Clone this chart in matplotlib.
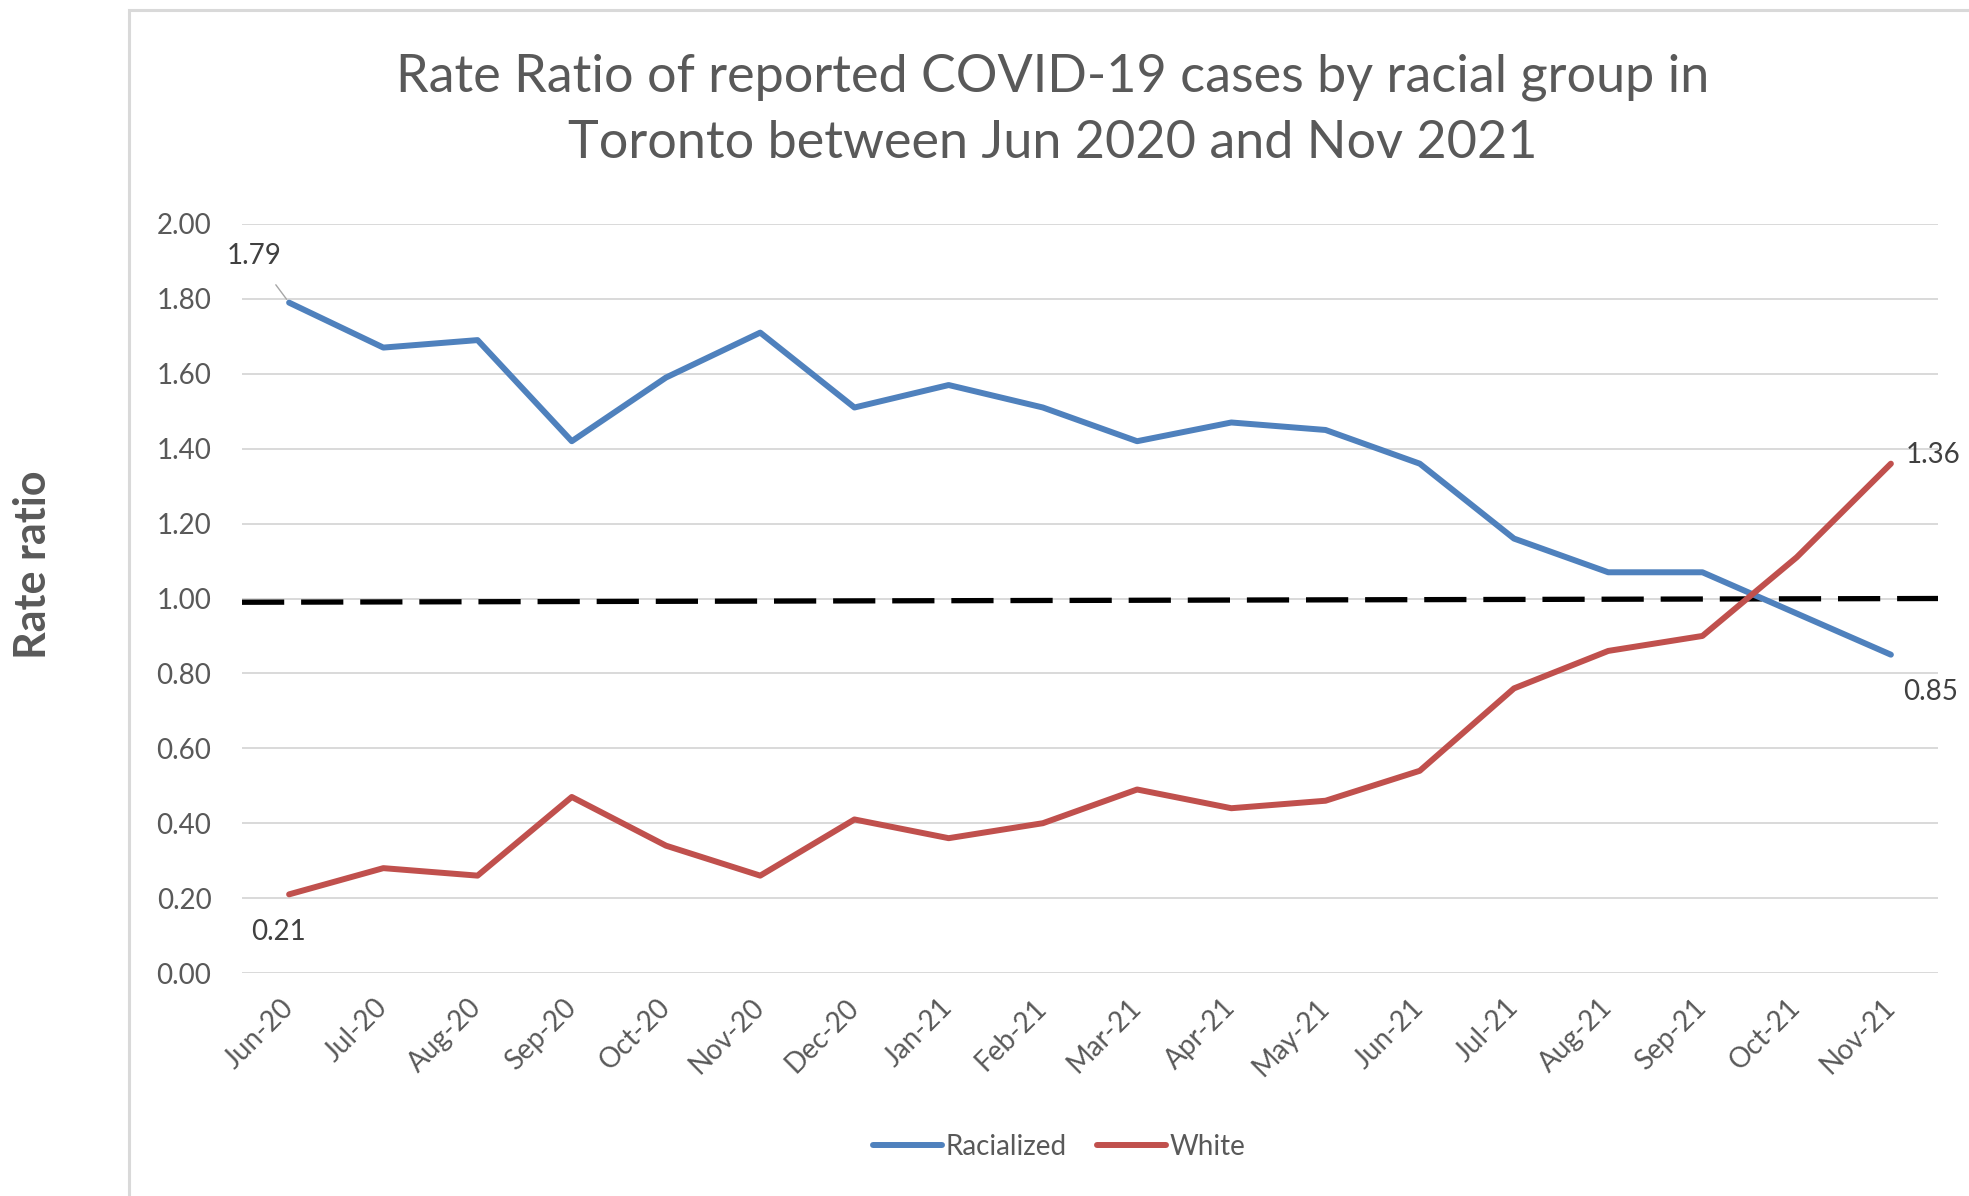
import matplotlib
matplotlib.use("Agg")
import matplotlib.pyplot as plt
from matplotlib.patches import Rectangle

# Data
months = ["Jun-20", "Jul-20", "Aug-20", "Sep-20", "Oct-20", "Nov-20", "Dec-20",
          "Jan-21", "Feb-21", "Mar-21", "Apr-21", "May-21", "Jun-21", "Jul-21",
          "Aug-21", "Sep-21", "Oct-21", "Nov-21"]
racialized = [1.79, 1.67, 1.69, 1.42, 1.59, 1.71, 1.51, 1.57, 1.51, 1.42,
              1.47, 1.45, 1.36, 1.16, 1.07, 1.07, 0.96, 0.85]
white = [0.21, 0.28, 0.26, 0.47, 0.34, 0.26, 0.41, 0.36, 0.40, 0.49,
         0.44, 0.46, 0.54, 0.76, 0.86, 0.90, 1.11, 1.36]
ref_line = [0.99, 1.00]
y_ticks = [0.0, 0.2, 0.4, 0.6, 0.8, 1.0, 1.2, 1.4, 1.6, 1.8, 2.0]

BLUE = "#4F81BD"
RED = "#C0504D"
GREY = "#595959"
GRID = "#D9D9D9"

plt.rcParams["font.family"] = ["Lato", "DejaVu Sans"]

fig = plt.figure(figsize=(19.69, 11.96), dpi=100)
W, H = 1969, 1196

# outer chart frame (clipped at right/bottom like the screenshot)
fig.patches.append(Rectangle((129 / W, -0.1), 2.0, 1 - 10 / H + 0.1,
                             transform=fig.transFigure, fill=False,
                             edgecolor=GRID, linewidth=2.2))

ax = fig.add_axes([242 / W, 1 - 973 / H, (1938 - 242) / W, (973 - 224) / H])
x = list(range(len(months)))

ax.plot(x, racialized, color=BLUE, lw=4.3, solid_capstyle="round",
        solid_joinstyle="round", label="Racialized", zorder=3)
ax.plot(x, white, color=RED, lw=4.3, solid_capstyle="round",
        solid_joinstyle="round", label="White", zorder=3)
ax.plot([-0.5, len(months) - 0.5], ref_line, color="black", lw=3.8,
        dashes=(8.0, 3.2), zorder=2)

ax.set_xlim(-0.5, len(months) - 0.5)
ax.set_ylim(0, 2)
ax.set_yticks(y_ticks)
ax.set_yticklabels([f"{v:.2f}" for v in y_ticks])
ax.set_xticks(x)
ax.set_xticklabels(months, rotation=45, ha="right", va="center",
                   rotation_mode="anchor")
ax.tick_params(axis="both", length=0, labelsize=20, labelcolor=GREY)
ax.tick_params(axis="y", pad=22)
ax.tick_params(axis="x", pad=22)
ax.grid(axis="y", color=GRID, lw=1.4)
ax.set_axisbelow(True)
for s in ax.spines.values():
    s.set_visible(False)

# data labels
ax.annotate(f"{racialized[0]:.2f}", (0, racialized[0]), xytext=(-35, 47),
            textcoords="offset pixels", ha="center", va="center",
            fontsize=20, color="#404040",
            arrowprops=dict(arrowstyle="-", color="#A6A6A6", lw=1,
                            shrinkA=12, shrinkB=3))
ax.annotate(f"{white[0]:.2f}", (0, white[0]), xytext=(-11, -38),
            textcoords="offset pixels", ha="center", va="center",
            fontsize=20, color="#404040")
ax.annotate(f"{white[-1]:.2f}", (x[-1], white[-1]), xytext=(15, 9),
            textcoords="offset pixels", ha="left", va="center",
            fontsize=20, color="#404040")
ax.annotate(f"{racialized[-1]:.2f}", (x[-1], racialized[-1]), xytext=(12, -37),
            textcoords="offset pixels", ha="left", va="center",
            fontsize=20, color="#404040")

fig.text(1053 / W, 1 - 110 / H,
         "Rate Ratio of reported COVID-19 cases by racial group in\n"
         "Toronto between Jun 2020 and Nov 2021",
         ha="center", va="center", fontsize=37.5, color=GREY, linespacing=1.5)

fig.text(33 / W, 1 - 565 / H, "Rate ratio", rotation=90, ha="center",
         va="center", fontsize=31, fontweight="bold", color=GREY)

fig.legend(loc="center", bbox_to_anchor=(1059 / W, 1 - 1147 / H), ncol=2,
           frameon=False, fontsize=20, handlelength=2.5, handletextpad=0.1,
           columnspacing=1.1, labelcolor=GREY)

fig.savefig("out.png", dpi=100)
